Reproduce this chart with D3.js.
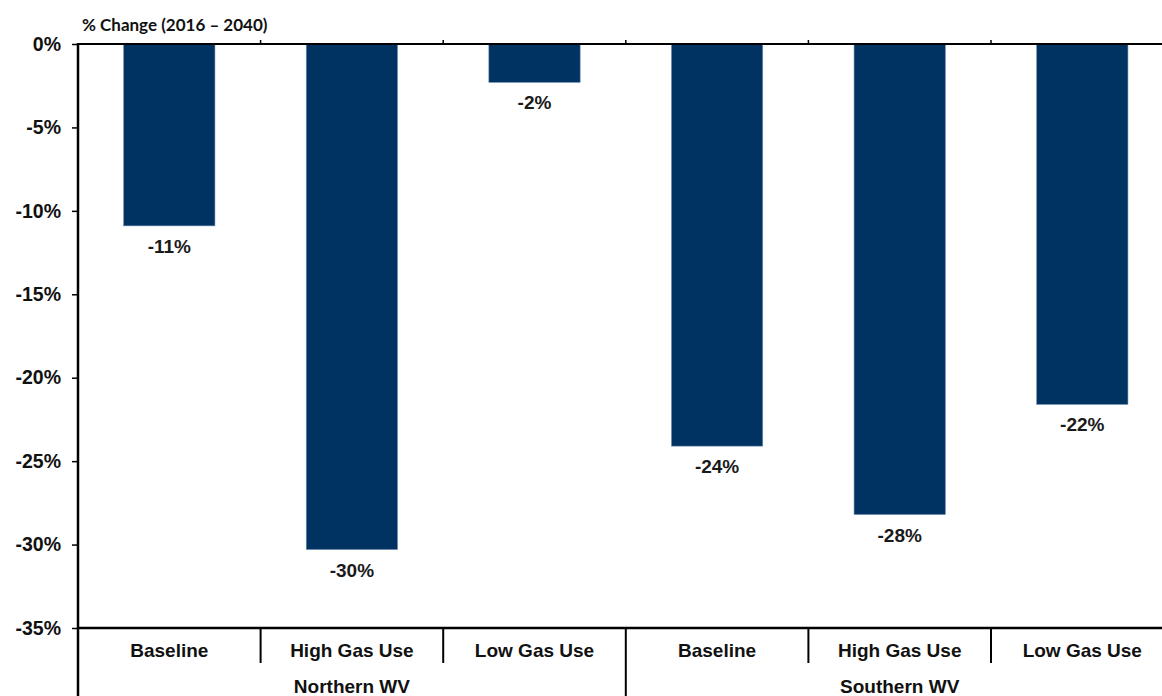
<!DOCTYPE html>
<html>
<head>
<meta charset="utf-8">
<script src="https://cdn.jsdelivr.net/npm/d3@7"></script>
<style>
  body { margin: 0; background: #fff; }
  text { font-family: "Liberation Sans", Arial, sans-serif; }
</style>
</head>
<body>
<script>
// data
var scenarios = ['Baseline', 'High Gas Use', 'Low Gas Use', 'Baseline', 'High Gas Use', 'Low Gas Use'];
var regions = ['Northern WV', 'Southern WV'];
var changes = [-10.9, -30.3, -2.3, -24.1, -28.2, -21.6];
var valueLabels = ['-11%', '-30%', '-2%', '-24%', '-28%', '-22%'];
var yTicks = [0, -5, -10, -15, -20, -25, -30, -35];

var width = 1162;
var height = 696;

// plot edges (window.top is reserved, so use own names)
var plotLeft = 78;
var plotTop = 44;
var plotBottom = 628;
var step = 182.6;

var svg = d3.select('body').append('svg')
  .attr('width', width)
  .attr('height', height);

var keys = scenarios.map(function(d, i) { return i; });

var x = d3.scaleBand()
  .domain(keys)
  .range([plotLeft, plotLeft + step * scenarios.length])
  .paddingInner(0.5)
  .paddingOuter(0.25);

var y = d3.scaleLinear()
  .domain([0, -35])
  .range([plotTop, plotBottom]);

// boundaries between categories
var bounds = keys.map(function(i) { return x(i) - x.step() * 0.25; });
bounds.push(x.range()[1]);

// bars
svg.selectAll('rect.bar')
  .data(changes)
  .enter().append('rect')
  .attr('class', 'bar')
  .attr('x', function(d, i) { return x(i); })
  .attr('y', y(0))
  .attr('width', x.bandwidth())
  .attr('height', function(d) { return y(d) - y(0); })
  .attr('fill', '#003362')
  .attr('stroke', '#6f8fb5')
  .attr('stroke-width', 0.6);

// value labels under the bars
svg.selectAll('text.val')
  .data(changes)
  .enter().append('text')
  .attr('class', 'val')
  .attr('x', function(d, i) { return x(i) + x.bandwidth() / 2; })
  .attr('y', function(d) { return y(d) + 27; })
  .attr('text-anchor', 'middle')
  .attr('font-size', 19)
  .attr('font-weight', 'bold')
  .attr('fill', '#1a1a1a')
  .text(function(d, i) { return valueLabels[i]; });

// y axis
var yAxis = svg.append('g')
  .attr('transform', 'translate(' + plotLeft + ',0)')
  .call(d3.axisLeft(y)
    .tickValues(yTicks)
    .tickSize(6)
    .tickPadding(11)
    .tickFormat(function(d) { return d + '%'; }));
yAxis.select('.domain').remove();
yAxis.selectAll('line').attr('stroke', '#000').attr('stroke-width', 1.5);
yAxis.selectAll('text')
  .attr('font-size', 19.5)
  .attr('font-weight', 'bold')
  .attr('fill', '#111')
  .style('font-family', '"Liberation Sans", Arial, sans-serif');

svg.append('line')
  .attr('x1', plotLeft).attr('x2', plotLeft)
  .attr('y1', plotTop - 1).attr('y2', height)
  .attr('stroke', '#000').attr('stroke-width', 2.5);

// zero line with small upward ticks
svg.append('line')
  .attr('x1', plotLeft).attr('x2', x.range()[1])
  .attr('y1', y(0)).attr('y2', y(0))
  .attr('stroke', '#000').attr('stroke-width', 2);
svg.selectAll('line.zt')
  .data(bounds.slice(1, -1))
  .enter().append('line')
  .attr('class', 'zt')
  .attr('x1', function(d) { return d; }).attr('x2', function(d) { return d; })
  .attr('y1', y(0)).attr('y2', y(0) - 4)
  .attr('stroke', '#000').attr('stroke-width', 1.5);

// bottom category axis
svg.append('line')
  .attr('x1', plotLeft).attr('x2', x.range()[1])
  .attr('y1', plotBottom).attr('y2', plotBottom)
  .attr('stroke', '#000').attr('stroke-width', 2.5);

svg.selectAll('line.ct')
  .data(bounds.slice(1, -1))
  .enter().append('line')
  .attr('class', 'ct')
  .attr('x1', function(d) { return d; }).attr('x2', function(d) { return d; })
  .attr('y1', plotBottom)
  .attr('y2', function(d, i) { return i === 2 ? height : 663; })
  .attr('stroke', '#000').attr('stroke-width', 2);

svg.selectAll('text.cat')
  .data(scenarios)
  .enter().append('text')
  .attr('class', 'cat')
  .attr('x', function(d, i) { return x(i) + x.bandwidth() / 2; })
  .attr('y', 657)
  .attr('text-anchor', 'middle')
  .attr('font-size', 19)
  .attr('font-weight', 'bold')
  .attr('fill', '#111')
  .text(function(d) { return d; });

svg.selectAll('text.reg')
  .data(regions)
  .enter().append('text')
  .attr('class', 'reg')
  .attr('x', function(d, i) { return (bounds[i * 3] + bounds[i * 3 + 3]) / 2; })
  .attr('y', 693)
  .attr('text-anchor', 'middle')
  .attr('font-size', 19)
  .attr('font-weight', 'bold')
  .attr('fill', '#111')
  .text(function(d) { return d; });

// axis title
svg.append('text')
  .attr('x', 82)
  .attr('y', 31)
  .attr('font-size', 17)
  .attr('font-weight', 'bold')
  .attr('fill', '#111')
  .style('font-family', 'Lato, "Open Sans", sans-serif')
  .text('% Change (2016 \u2013 2040)');
</script>
</body>
</html>
